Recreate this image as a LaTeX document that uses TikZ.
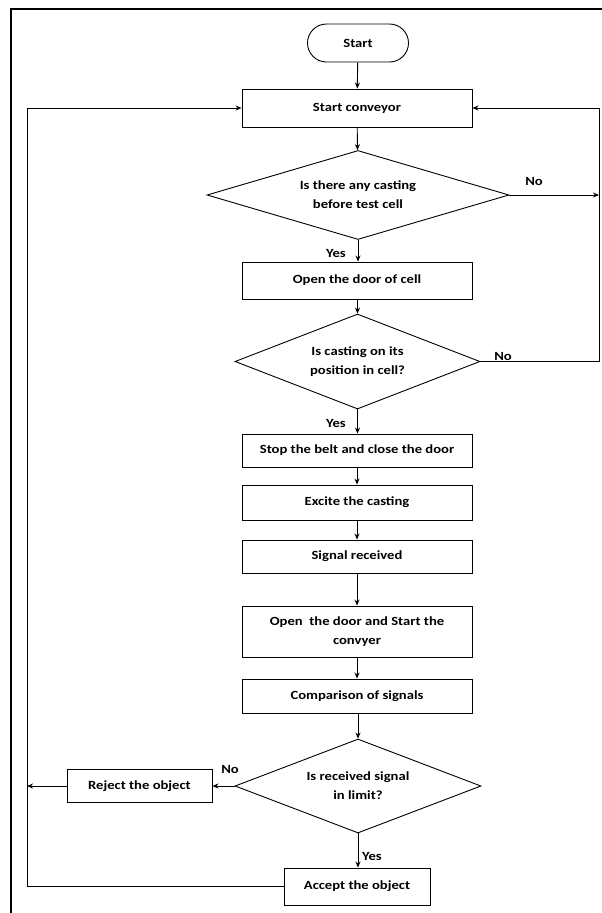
\documentclass[tikz,border=0pt]{standalone}
\usepackage{fontspec}
\setmainfont{Carlito}[FakeStretch=1.17]
\usetikzlibrary{shapes.geometric,arrows.meta}
\begin{document}
\begin{tikzpicture}[x=1pt,y=-1pt,
  every node/.style={font=\bfseries\fontsize{12.5}{19}\selectfont, align=center, inner sep=0pt},
  procbox/.style={draw, line width=0.9pt, rectangle, minimum width=230pt},
  decide/.style={draw, line width=0.9pt, diamond},
  termbox/.style={draw, line width=0.9pt, rectangle, rounded corners=19pt, minimum width=101pt, minimum height=38pt},
  arr/.style={line width=0.9pt, -{Stealth[length=6pt,width=5pt]}},
  ln/.style={line width=0.9pt}]
\useasboundingbox (0,0) rectangle (602,913);
\fill[white] (0,0) rectangle (602,913);
\draw[line width=1.8pt] (11,913) -- (11,9) -- (602,9);

\node[termbox] (start) at (358,43) {Start};
\node[procbox, minimum height=38pt] (sc) at (357,108) {Start conveyor};
\node[decide, aspect=3.4, minimum width=302pt, minimum height=89pt] (d1) at (358,195) {Is there any casting\\before test cell};
\node[procbox, minimum height=37pt] (od) at (357,280.5) {Open the door of cell};
\node[decide, aspect=2.6, minimum width=245pt, minimum height=95pt] (d2) at (357.5,361.5) {Is casting on its\\position in cell?};
\node[procbox, minimum height=33pt] (stop) at (357,450.5) {Stop the belt and close the door};
\node[procbox, minimum height=35pt] (exc) at (357,502.5) {Excite the casting};
\node[procbox, minimum height=33pt] (sig) at (357,556.5) {Signal received};
\node[procbox, minimum height=51pt] (os) at (357,631.5) {Open\ \ the door and Start the\\convyer};
\node[procbox, minimum height=34pt] (cmp) at (357,696) {Comparison of signals};
\node[decide, aspect=2.6, minimum width=246pt, minimum height=94pt] (d3) at (358,786) {Is received signal\\in limit?};
\node[procbox, minimum width=145pt, minimum height=33pt] (rej) at (139.5,786) {Reject the object};
\node[procbox, minimum width=146pt, minimum height=37pt] (acc) at (357,886.5) {Accept the object};

\coordinate (rx) at (599,0);
\coordinate (lx) at (27,0);

\draw[arr] (start) -- (sc);
\draw[arr] (sc) -- (d1);
\draw[arr] (d1.south) -- (od.north -| d1.south);
\draw[arr] (d1.east) -- (d1.east -| rx);
\draw[arr] (d2.east) -- (d2.east -| rx) |- (sc.east);
\draw[arr] (od.south -| d2.north) -- (d2.north);
\draw[arr] (d2.south) -- (stop.north -| d2.south);
\draw[arr] (stop) -- (exc);
\draw[arr] (exc) -- (sig);
\draw[arr] (sig) -- (os);
\draw[arr] (os) -- (cmp);
\draw[arr] (cmp.south -| d3.north) -- (d3.north);
\draw[arr] (d3.west) -- (rej.east);
\draw[arr] (rej.west) -- (rej.west -| lx);
\draw[arr] (d3.south) -- (acc.north -| d3.south);
\draw[arr] (acc.west) -- (acc.west -| lx) |- (sc.west);

\node (no1) at (534,181) {No};
\node (yes1) at (336,253) {Yes};
\node (no2) at (503,356) {No};
\node (yes2) at (336,423) {Yes};
\node (no3) at (230,769) {No};
\node (yes3) at (372,856) {Yes};
\end{tikzpicture}
\end{document}
